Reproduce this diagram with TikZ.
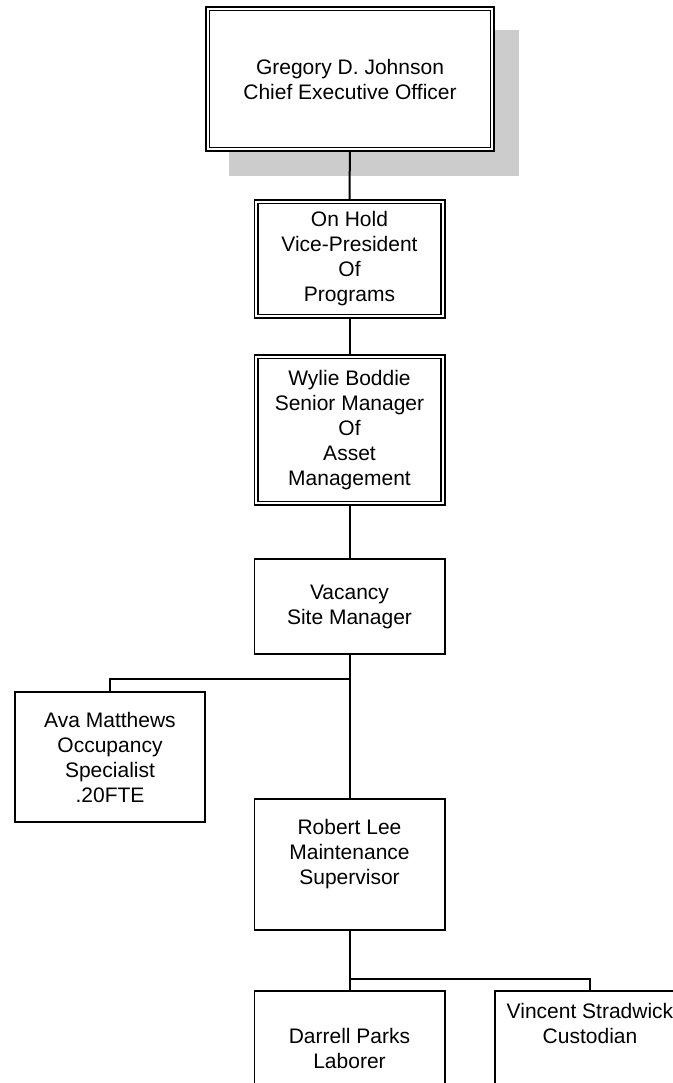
\documentclass[tikz,border=0pt]{standalone}
\usepackage{fontspec}
\setmainfont{Liberation Sans}
\usetikzlibrary{backgrounds}

\begin{document}
\begin{tikzpicture}[x=1pt,y=-1pt,
    box/.style={draw,fill=white,line width=1.9pt,inner sep=0pt,outer sep=0pt,align=center,
        font=\fontsize{21}{25}\selectfont,minimum width=190.1pt},
    dbox/.style={box,double,line width=1.7pt,double distance=2pt,minimum width=186.6pt},
    link/.style={line width=2pt}]
    \useasboundingbox (0,0) rectangle (672,1083);
    \node[dbox,minimum width=284.6pt,minimum height=140.6pt] (ceo) at (350,79) {Gregory D. Johnson\\Chief Executive Officer};
    \node[dbox,minimum height=114.6pt] (vp) at (349.5,259) {On Hold\\Vice-President\\Of\\Programs};
    \node[dbox,minimum height=146.6pt] (asset) at (349.5,430) {Wylie Boddie\\Senior Manager\\Of\\Asset\\Management};
    \node[box,minimum height=95.1pt] (site) at (349.5,606.5) {Vacancy\\Site Manager};
    \node[box,minimum height=130.1pt] (occ) at (110,757) {Ava Matthews\\Occupancy\\Specialist\\.20FTE};
    \node[box,minimum height=131.1pt] (maint) at (349.5,864.5) {Robert Lee\\Maintenance\\Supervisor\\\mbox{}};
    \node[box,minimum height=140pt] (lab) at (349.5,1061) {Darrell Parks\\Laborer\\\mbox{}};
    \node[box,minimum height=140pt] (cust) at (590,1061) {Vincent Stradwick\\Custodian\\\mbox{}\\\mbox{}\\\mbox{}};
    \begin{pgfonlayer}{background}
        \fill[black!20] (229,30) rectangle (519,176);
        \draw[link] (ceo) -- (vp);
        \draw[link] (vp) -- (asset);
        \draw[link] (asset) -- (site);
        \draw[link] (site) -- (maint);
        \draw[link] (occ.north) |- ([yshift=-25pt]site.south);
        \draw[link] (maint) -- (lab);
        \draw[link] (cust.north) |- ([yshift=-49pt]maint.south);
    \end{pgfonlayer}
\end{tikzpicture}
\end{document}
